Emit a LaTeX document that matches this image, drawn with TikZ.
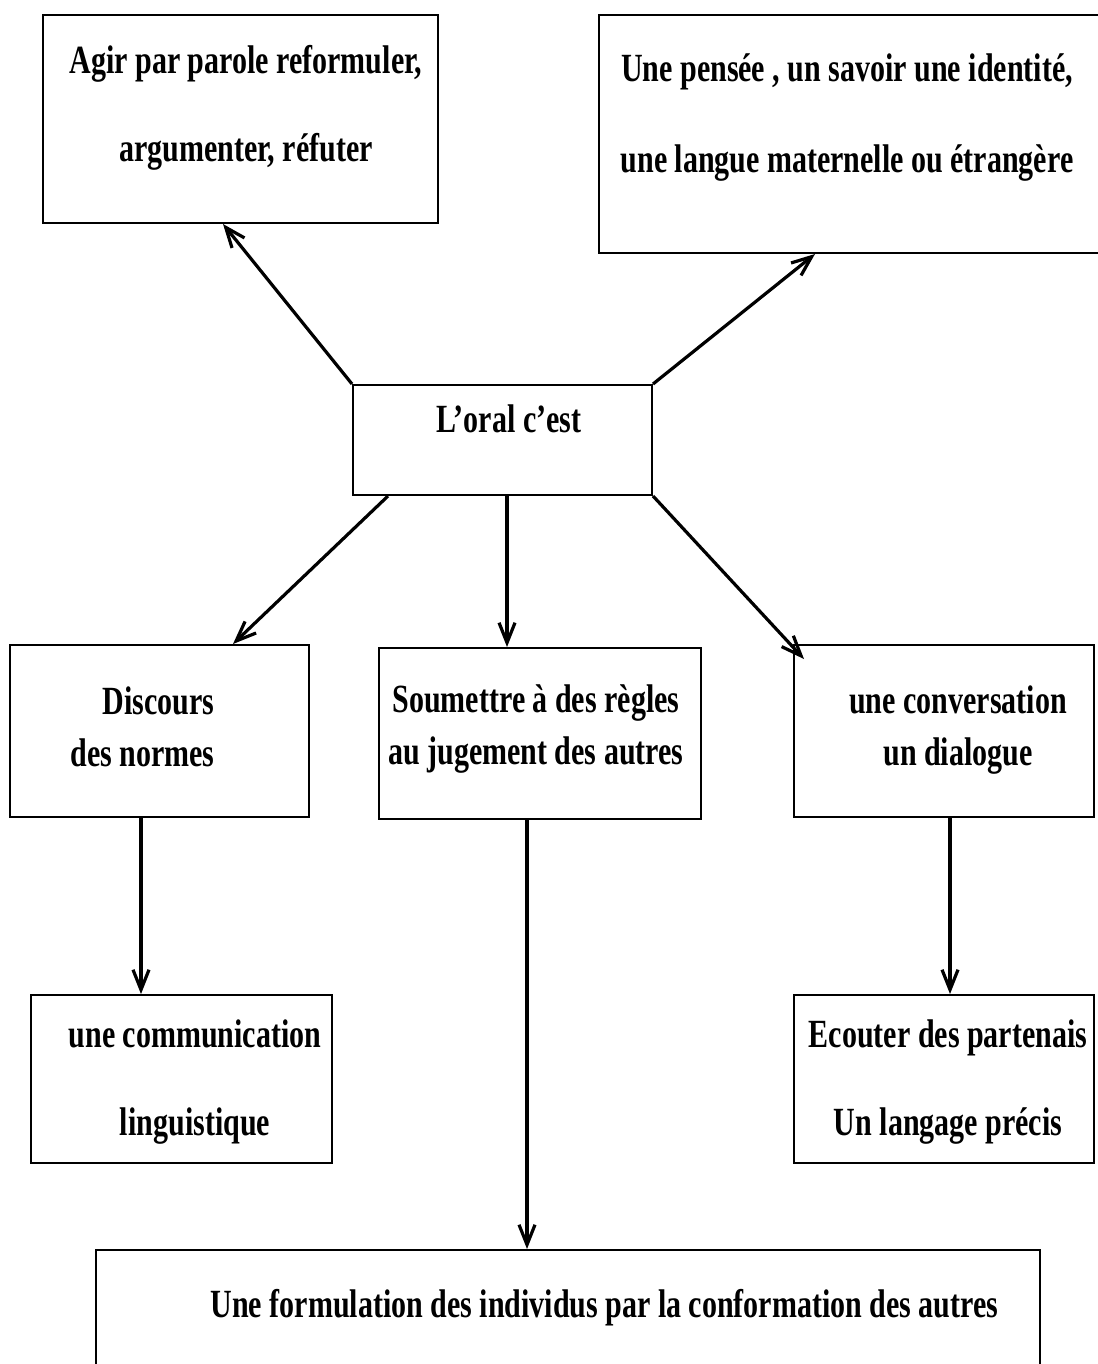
\documentclass[tikz,border=0pt]{standalone}
\usepackage{fontspec}
\setmainfont{Liberation Serif}[FakeStretch=0.75]
\usepackage{tikz}
\usetikzlibrary{arrows.meta,positioning}

\begin{document}
\begin{tikzpicture}[x=0.5pt, y=-0.5pt, ->, >={Straight Barb[length=10pt,width=8pt]}, line width=1.6pt, draw=black]
	\tikzset{boite/.style={draw, rectangle, line width=1pt, inner sep=0pt}}
	\tikzset{texte/.style={font=\bfseries\fontsize{20}{#1}\selectfont, align=center, inner sep=0pt}, texte/.default=26}
	\useasboundingbox (0,0) rectangle (1097,1364);

	%BOITES
	\node[boite, minimum width=197.5pt, minimum height=104pt]	(agir)		at (240.5,119)	{};
	\node[boite, minimum width=260.5pt, minimum height=119pt]	(pensee)	at (859.5,134)	{};
	\node[boite, minimum width=149.5pt, minimum height=55pt]	(oral)		at (502.5,440)	{};
	\node[boite, minimum width=149.5pt, minimum height=86pt]	(discours)	at (159.5,731)	{};
	\node[boite, minimum width=161pt, minimum height=85.5pt]	(soumettre)	at (540,733.5)	{};
	\node[boite, minimum width=150pt, minimum height=86pt]		(conversation)	at (944,731)	{};
	\node[boite, minimum width=150.5pt, minimum height=84pt]	(communication)	at (181.5,1079)	{};
	\node[boite, minimum width=150pt, minimum height=84pt]		(ecouter)	at (944,1079)	{};
	\node[boite, minimum width=472pt, minimum height=75pt]		(formulation)	at (568,1325)	{};

	%TEXTES
	\node[texte=44]			(agir txt)		at (246,108)	{Agir par parole reformuler,\\argumenter, réfuter};
	\node[texte=45.5]		(pensee txt)		at (847,118)	{Une pensée , un savoir une identité,\\une langue maternelle ou étrangère};
	\node[texte]			(oral txt)		at (509,419)	{L’oral c’est};
	\node[texte, align=right]	(discours txt)		at (142.5,726.5){Discours\\des normes};
	\node[texte]			(soumettre txt)		at (536,729.5)	{Soumettre à des règles\\au jugement des autres};
	\node[texte]			(conversation txt)	at (958,730)	{une conversation\\un dialogue};
	\node[texte=44]			(communication txt)	at (195,1082)	{une communication\\linguistique};
	\node[texte=44]			(ecouter txt)		at (948,1082.5)	{Ecouter des partenais\\Un langage précis};
	\node[texte]			(formulation txt)	at (604.5,1308)	{Une formulation des individus par la conformation des autres};

	%FLECHES
	\coordinate (d1) at ([xshift=2.25pt]oral.south);
	\coordinate (d2) at ([xshift=-9.25pt]discours.south);
	\coordinate (d3) at ([xshift=3pt]conversation.south);
	\coordinate (d4) at ([xshift=-6.5pt]soumettre.south);
	\path
		(oral.north west)		edge	([xshift=-8.75pt]agir.south)
		(oral.north east)		edge	([xshift=-22.25pt]pensee.south)
		([xshift=-57.25pt]oral.south)	edge	([xshift=36.75pt]discours.north)
		(d1)				edge	(d1 |- soumettre.north)
		(oral.south east)		edge	([xshift=5.5pt,yshift=-7.5pt]conversation.north west)
		(d2)				edge	(d2 |- communication.north)
		(d3)				edge	(d3 |- ecouter.north)
		(d4)				edge	(d4 |- formulation.north);
\end{tikzpicture}
\end{document}
